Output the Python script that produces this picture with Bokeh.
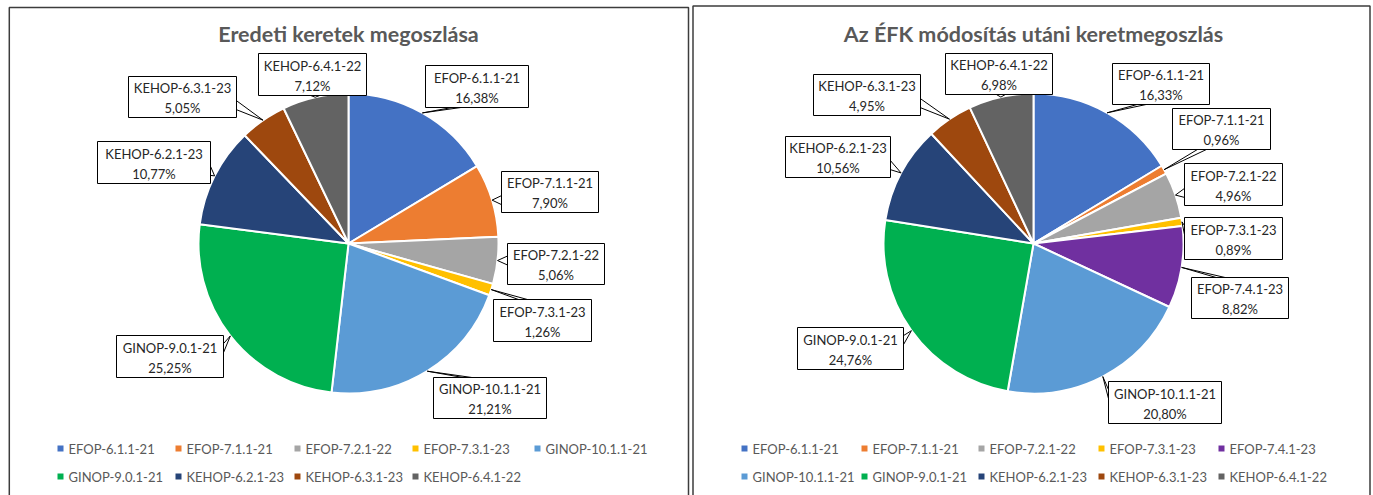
import numpy as np
from bokeh.plotting import figure
from bokeh.models import Range1d, ColumnDataSource
from bokeh.core.properties import value
from bokeh.embed import file_html
from bokeh.resources import INLINE

# ---------------- data ----------------
left_title = "Eredeti keretek megoszlása"
left_names = ["EFOP-6.1.1-21", "EFOP-7.1.1-21", "EFOP-7.2.1-22", "EFOP-7.3.1-23",
              "GINOP-10.1.1-21", "GINOP-9.0.1-21", "KEHOP-6.2.1-23", "KEHOP-6.3.1-23",
              "KEHOP-6.4.1-22"]
left_values = [16.38, 7.90, 5.06, 1.26, 21.21, 25.25, 10.77, 5.05, 7.12]

right_title = "Az ÉFK módosítás utáni keretmegoszlás"
right_names = ["EFOP-6.1.1-21", "EFOP-7.1.1-21", "EFOP-7.2.1-22", "EFOP-7.3.1-23",
               "EFOP-7.4.1-23", "GINOP-10.1.1-21", "GINOP-9.0.1-21", "KEHOP-6.2.1-23",
               "KEHOP-6.3.1-23", "KEHOP-6.4.1-22"]
right_values = [16.33, 0.96, 4.96, 0.89, 8.82, 20.80, 24.76, 10.56, 4.95, 6.98]

palette = {
    "EFOP-6.1.1-21": "#4472C4",
    "EFOP-7.1.1-21": "#ED7D31",
    "EFOP-7.2.1-22": "#A5A5A5",
    "EFOP-7.3.1-23": "#FFC000",
    "EFOP-7.4.1-23": "#7030A0",
    "GINOP-10.1.1-21": "#5B9BD5",
    "GINOP-9.0.1-21": "#00B050",
    "KEHOP-6.2.1-23": "#264478",
    "KEHOP-6.3.1-23": "#9E480E",
    "KEHOP-6.4.1-22": "#636363",
}

# ---------------- layout (page pixel coordinates) ----------------
W, H = 1373, 495
X0, Y0 = 0, 0

def Y(py):
    return Y0 + H - np.asarray(py, dtype=float)

left_boxes = [(425, 65, 528, 107), (501, 171, 598, 212), (507, 243, 604, 284),
              (493, 299, 591, 341), (433, 377, 546, 418), (116, 335, 223, 377),
              (97, 141, 210, 183), (128, 76, 236, 117), (258, 53, 366, 95)]
right_boxes = [(1112, 63, 1209, 104), (1172, 108, 1270, 149), (1184, 163, 1282, 205),
               (1184, 217, 1282, 259), (1191, 277, 1288, 318), (1108, 381, 1221, 423),
               (797, 327, 903, 369), (785, 136, 890, 177), (813, 74, 920, 115),
               (945, 53, 1052, 94)]

left_leg_cols = [60, 178, 297, 415, 537]
right_leg_cols = [744, 864, 981, 1101, 1221]
leg_rows = [448, 476]

FONT = value("Lato")

p = figure(width=W, height=H, output_backend="svg", toolbar_location=None,
           x_range=Range1d(X0, X0 + W), y_range=Range1d(0, H),
           min_border=0, x_axis_location=None, y_axis_location=None)
p.outline_line_color = None
p.xgrid.visible = False
p.ygrid.visible = False
p.background_fill_color = "white"
p.border_fill_color = "white"

# panel frames
for xs, ys in [([8.8, 8.8, 688, 688], [500, 7, 7, 500]),
               ([692.5, 692.5, 1369.5, 1369.5], [500, 5.5, 5.5, 500])]:
    p.line(xs, Y(ys), line_color="#3c3c3c", line_width=1.5)


def pointer(box, tx, ty, hw=4.5):
    l, t, r, b = box
    w, h = r - l, b - t
    dx = max(l - tx, 0, tx - r)
    dy = max(t - ty, 0, ty - b)
    if (t <= ty <= b) or (dx > dy and not (l <= tx <= r)):
        ex = l if tx < l else r
        ey = float(np.clip(ty, t + 0.3 * h, b - 0.3 * h))
        return [ex, ex, tx], [ey - hw, ey + hw, ty]
    ey = t if ty < t else b
    ex = float(np.clip(tx, l + 0.3 * w, r - 0.3 * w))
    return [ex - hw, ex + hw, tx], [ey, ey, ty]


def draw_pie(names, values, cx, cy, r, boxes, leg_cols, title, title_size):
    vals = np.array(values, dtype=float)
    frac = vals / vals.sum()
    cum = np.concatenate([[0.0], np.cumsum(frac)])
    start = np.pi / 2 - 2 * np.pi * cum[:-1]
    end = np.pi / 2 - 2 * np.pi * cum[1:]
    cols = [palette[n] for n in names]
    src = ColumnDataSource(dict(start=start, end=end, color=cols))
    p.wedge(x=cx, y=float(Y(cy)), radius=r, start_angle="start", end_angle="end",
            direction="clock", fill_color="color", line_color="white", line_width=2,
            source=src)

    mid = 2 * np.pi * (cum[:-1] + cum[1:]) / 2
    tipx = cx + r * np.sin(mid)
    tipy = cy - r * np.cos(mid)

    pxs, pys = [], []
    for box, tx, ty in zip(boxes, tipx, tipy):
        xs, ys = pointer(box, tx, ty)
        pxs.append(xs)
        pys.append(list(Y(ys)))
    p.patches(pxs, pys, fill_color="white", line_color="black", line_width=1)

    L = [bx[0] for bx in boxes]
    T = [bx[1] for bx in boxes]
    R = [bx[2] for bx in boxes]
    B = [bx[3] for bx in boxes]
    p.quad(left=L, right=R, top=Y(T), bottom=Y(B), fill_color="white",
           line_color="black", line_width=1)
    labels = [f"{n}\n" + f"{v:.2f}".replace(".", ",") + "%" for n, v in zip(names, vals)]
    p.text(x=[(a + c) / 2 for a, c in zip(L, R)], y=Y([(a + c) / 2 + 1 for a, c in zip(T, B)]),
           text=labels, text_align="center", text_baseline="middle",
           text_font=FONT, text_font_size="13px", text_color="#262626",
           text_line_height=1.25)

    # title
    p.text(x=[cx], y=Y([33]), text=[title], text_align="center", text_baseline="middle",
           text_font=FONT, text_font_size=title_size, text_font_style="bold",
           text_color="#595959")

    # legend
    lx, ly = [], []
    for i in range(len(names)):
        lx.append(leg_cols[i % 5])
        ly.append(leg_rows[i // 5])
    p.scatter(x=lx, y=Y(ly), marker="square", size=6, fill_color=cols, line_color=None)
    p.text(x=[x + 8 for x in lx], y=Y(ly), text=names, text_align="left",
           text_baseline="middle", text_font=FONT, text_font_size="13px",
           text_color="#595959")


draw_pie(left_names, left_values, 348, 243, 150, left_boxes, left_leg_cols, left_title, "21.5px")
draw_pie(right_names, right_values, 1033, 243, 150, right_boxes, right_leg_cols, right_title, "21.5px")

open("out.html", "w").write(file_html(p, INLINE))
